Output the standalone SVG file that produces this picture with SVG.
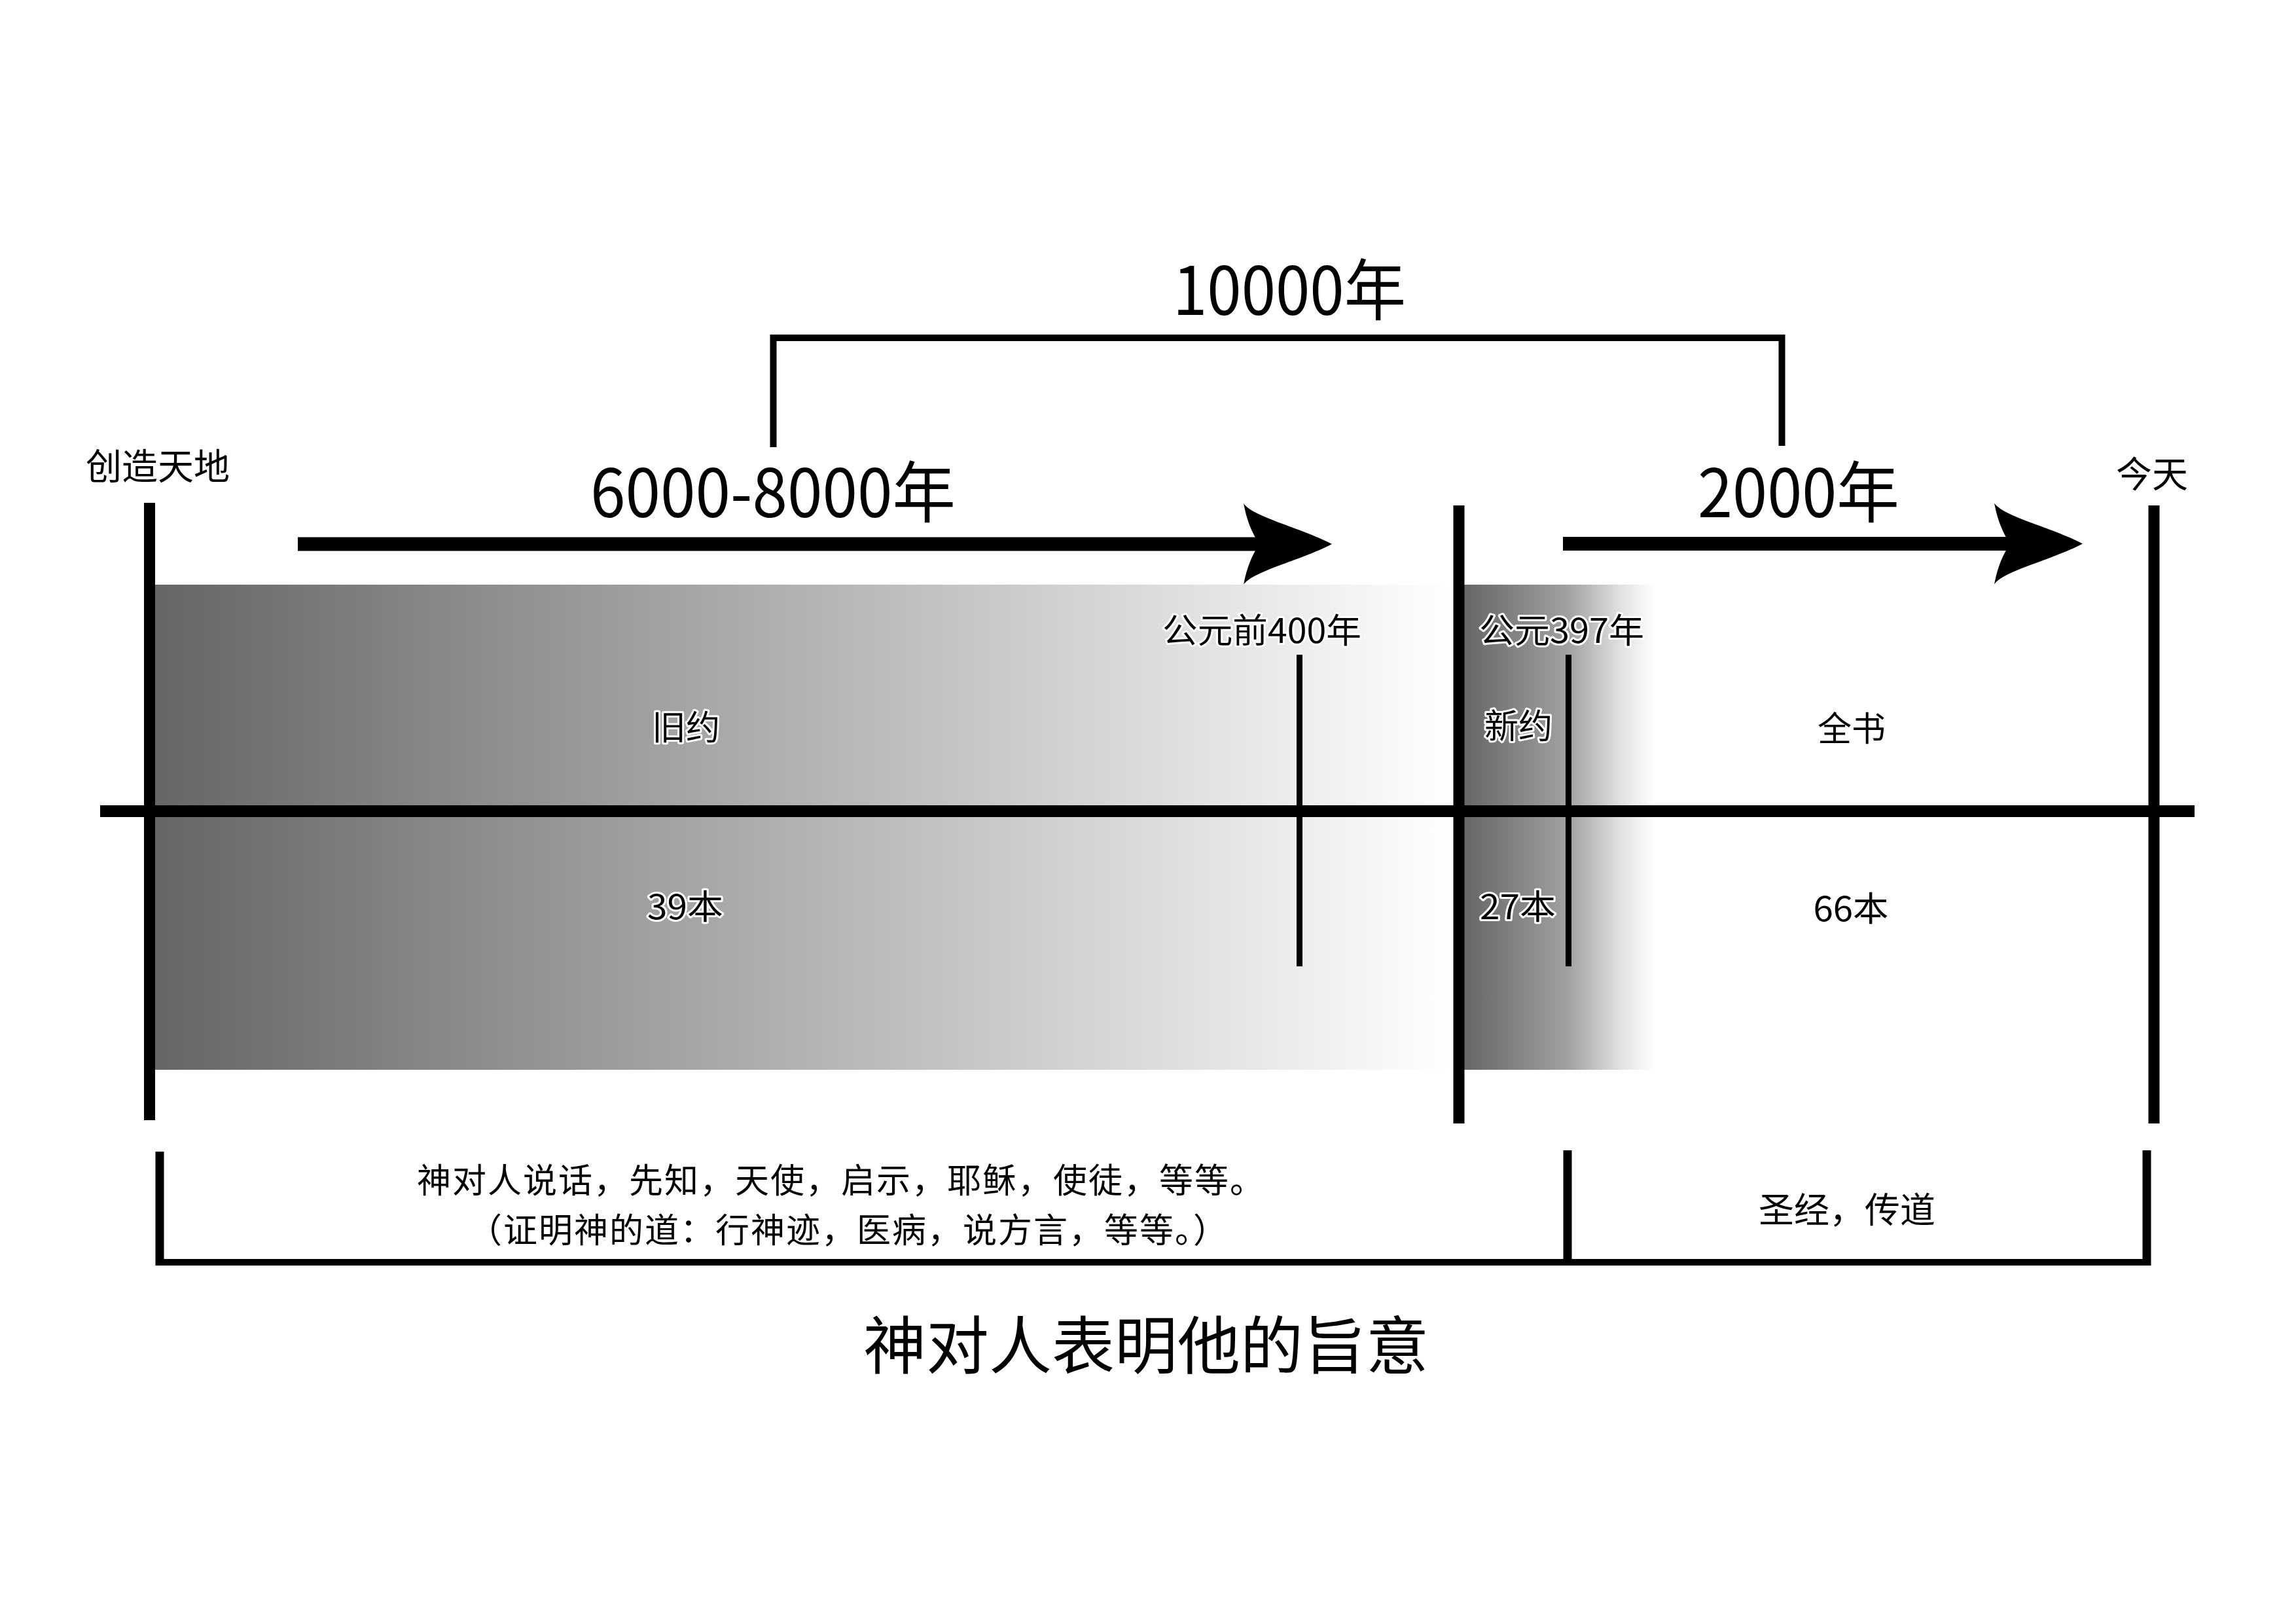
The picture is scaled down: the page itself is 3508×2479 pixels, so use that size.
<svg xmlns="http://www.w3.org/2000/svg" xmlns:xlink="http://www.w3.org/1999/xlink" width="3508" height="2479" viewBox="0 0 3508 2479">
  <style>
    text { font-family: "Noto Sans CJK SC", "Noto Sans", sans-serif; fill: #000; }
    .big { font-size: 102px; text-anchor: middle; }
    .end { font-size: 55px; text-anchor: middle; }
    .lbl { font-size: 52px; text-anchor: middle; stroke: #fff; stroke-width: 6px; stroke-linejoin: round; paint-order: stroke fill; }
    .desc { font-size: 54px; text-anchor: middle; }
    .desc2 { font-size: 52px; letter-spacing: 2px; text-anchor: middle; }
    .title { font-size: 96px; text-anchor: middle; }
    .thick { stroke: #000; stroke-width: 17; fill: none; }
    .thin { stroke: #000; stroke-width: 9; fill: none; }
    .brk { stroke: #000; fill: none; }
  </style>
  <defs>
    <linearGradient id="gOld" x1="237" y1="0" x2="2221" y2="0" gradientUnits="userSpaceOnUse">
      <stop offset="0" stop-color="#666666"/>
      <stop offset="1" stop-color="#ffffff"/>
    </linearGradient>
    <linearGradient id="gNew" x1="2237" y1="0" x2="2530" y2="0" gradientUnits="userSpaceOnUse">
      <stop offset="0" stop-color="#666666"/>
      <stop offset="0.55" stop-color="#a2a2a2"/>
      <stop offset="0.82" stop-color="#e2e2e2"/>
      <stop offset="1" stop-color="#ffffff"/>
    </linearGradient>
    <path id="head" d="M0,0 C-50,-26 -120,-41 -135,-62 C-130,-36 -123,-19 -111,0 C-123,19 -130,36 -135,62 C-120,41 -50,26 0,0 Z" fill="#000"/>
  </defs>
  <rect width="3508" height="2479" fill="#fff"/>

  <g id="bands">
    <rect id="band-old" x="237" y="893" width="1984" height="741" fill="url(#gOld)"/>
    <rect id="band-new" x="2237" y="893" width="293" height="741" fill="url(#gNew)"/>
  </g>

  <g id="connectors">
    <line id="axis" x1="153" y1="1239" x2="3353" y2="1239" stroke="#000" stroke-width="18"/>
    <line id="line-creation" class="thick" x1="228.5" y1="768" x2="228.5" y2="1711"/>
    <line id="line-ad" class="thick" x1="2229" y1="772" x2="2229" y2="1716"/>
    <line id="line-today" class="thick" x1="3291" y1="772" x2="3291" y2="1716"/>
    <line id="line-400bc" class="thin" x1="1985.5" y1="1000" x2="1985.5" y2="1476"/>
    <line id="line-397ad" class="thin" x1="2396.5" y1="1000" x2="2396.5" y2="1476"/>
    <g id="arrow-ot">
      <line x1="455" y1="831" x2="1935" y2="831" stroke="#000" stroke-width="21"/>
      <use xlink:href="#head" href="#head" transform="translate(2035,831)"/>
    </g>
    <g id="arrow-nt">
      <line x1="2388" y1="830.5" x2="3082" y2="830.5" stroke="#000" stroke-width="21"/>
      <use xlink:href="#head" href="#head" transform="translate(3182,830.5)"/>
    </g>
    <path id="bracket-top" class="brk" stroke-width="10" d="M1181.5,683 V516 H2722.5 V681"/>
    <g id="bracket-bottom">
      <line x1="238" y1="1928" x2="3286" y2="1928" stroke="#000" stroke-width="10"/>
      <line x1="244" y1="1759" x2="244" y2="1933" stroke="#000" stroke-width="13"/>
      <line x1="2395" y1="1757" x2="2395" y2="1928" stroke="#000" stroke-width="13"/>
      <line x1="3280" y1="1757" x2="3280" y2="1933" stroke="#000" stroke-width="13"/>
    </g>
  </g>

  <g id="node-10000">
    <text class="big" x="1970" y="481" font-size="100" textLength="356" lengthAdjust="spacingAndGlyphs">10000年</text>
  </g>
  <g id="node-6000">
    <text class="big" x="1181" y="790" textLength="558" lengthAdjust="spacingAndGlyphs">6000-8000年</text>
  </g>
  <g id="node-2000">
    <text class="big" x="2748" y="790" textLength="308" lengthAdjust="spacingAndGlyphs">2000年</text>
  </g>
  <g id="node-creation">
    <text class="end" x="241" y="732">创造天地</text>
  </g>
  <g id="node-today">
    <text class="end" x="3288" y="744">今天</text>
  </g>
  <g id="node-ot">
    <text class="lbl" x="1048" y="1130">旧约</text>
    <text class="lbl" x="1047" y="1404" textLength="116" lengthAdjust="spacingAndGlyphs">39本</text>
  </g>
  <g id="node-400bc">
    <text class="lbl" x="1928" y="982" textLength="304" lengthAdjust="spacingAndGlyphs">公元前400年</text>
  </g>
  <g id="node-397ad">
    <text class="lbl" x="2386" y="982" textLength="252" lengthAdjust="spacingAndGlyphs">公元397年</text>
  </g>
  <g id="node-nt">
    <text class="lbl" x="2320" y="1128">新约</text>
    <text class="lbl" x="2319" y="1404" textLength="116" lengthAdjust="spacingAndGlyphs">27本</text>
  </g>
  <g id="node-whole">
    <text class="lbl" x="2829" y="1132">全书</text>
    <text class="lbl" x="2828" y="1407" textLength="115" lengthAdjust="spacingAndGlyphs">66本</text>
  </g>
  <g id="node-revelation">
    <text class="desc2" x="1285" y="1822">神对人说话，先知，天使，启示，耶稣，使徒，等等。</text>
    <text class="desc2" x="1296" y="1898">（证明神的道：行神迹，医病，说方言，等等。）</text>
  </g>
  <g id="node-scripture">
    <text class="desc" x="2822" y="1868">圣经，传道</text>
  </g>
  <g id="node-title">
    <text class="title" x="1751" y="2090">神对人表明他的旨意</text>
  </g>
</svg>
